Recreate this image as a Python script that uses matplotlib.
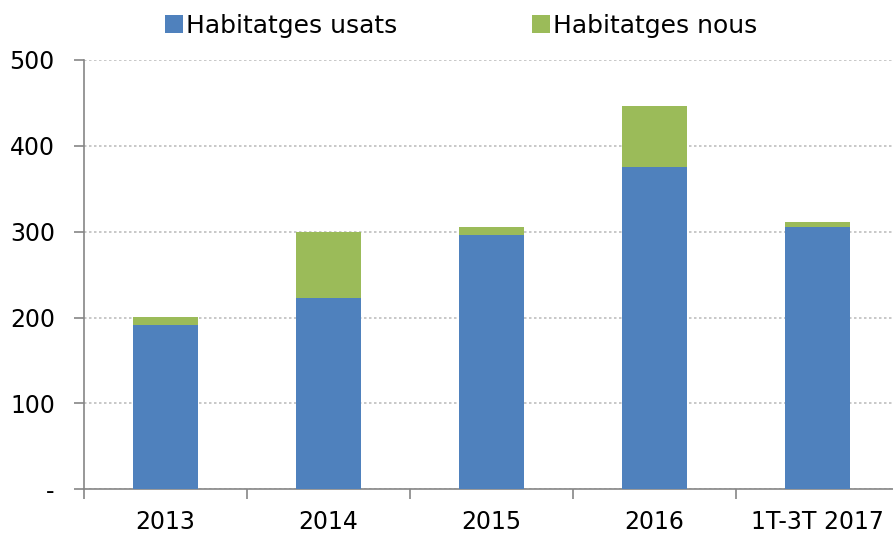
import matplotlib
matplotlib.use("Agg")
import matplotlib.pyplot as plt
from matplotlib.ticker import FixedLocator
import numpy as np

categories = ["2013", "2014", "2015", "2016", "1T-3T 2017"]
usats = [191, 223, 296, 375, 306]
nous = [10, 77, 9, 71, 5]
series_names = ["Habitatges usats", "Habitatges nous"]
ytick_values = [0, 100, 200, 300, 400, 500]
ytick_labels = ["-", "100", "200", "300", "400", "500"]

plt.rcParams["font.family"] = ["DejaVu Sans"]
fig = plt.figure(figsize=(8.93, 5.35), dpi=100)
W, H = 893, 535
left, right, bottom, top = 84, 899, 535 - 489.3, 535 - 60
ax = fig.add_axes([left / W, bottom / H, (right - left) / W, (top - bottom) / H])

x = np.arange(len(categories))
blue = "#4F81BD"
green = "#9BBB59"
ax.bar(x, usats, width=0.4, color=blue, label=series_names[0], zorder=3)
ax.bar(x, nous, width=0.4, bottom=usats, color=green, label=series_names[1], zorder=3)

ax.set_xlim(-0.5, 4.5)
ax.set_ylim(0, 500)
ax.set_yticks(ytick_values)
ax.set_yticklabels(ytick_labels, fontsize=17, color="#000000")
ax.set_xticks(x)
ax.set_xticklabels(categories, fontsize=17)
ax.xaxis.set_minor_locator(FixedLocator(np.arange(-0.5, 5.0, 1.0)))
ax.tick_params(axis="x", which="major", length=0, pad=15)
ax.tick_params(axis="x", which="minor", length=7, color="#868686", width=1.2)
ax.tick_params(axis="y", which="major", length=7, color="#868686", width=1.2, pad=14)

for s in ["top", "right"]:
    ax.spines[s].set_visible(False)
for s in ["left", "bottom"]:
    ax.spines[s].set_color("#868686")
    ax.spines[s].set_linewidth(1.2)

ax.yaxis.grid(True, linestyle=(0, (1.5, 1.5)), color="#BFBFBF", linewidth=1.2, zorder=0)
ax.set_axisbelow(True)

leg = fig.legend(loc="center", bbox_to_anchor=(0.516, 1 - 26 / H), ncol=2, frameon=False,
                 fontsize=18, handlelength=0.72, handleheight=0.72, handletextpad=0.12,
                 columnspacing=5.4)

fig.savefig("out.png", dpi=100)
